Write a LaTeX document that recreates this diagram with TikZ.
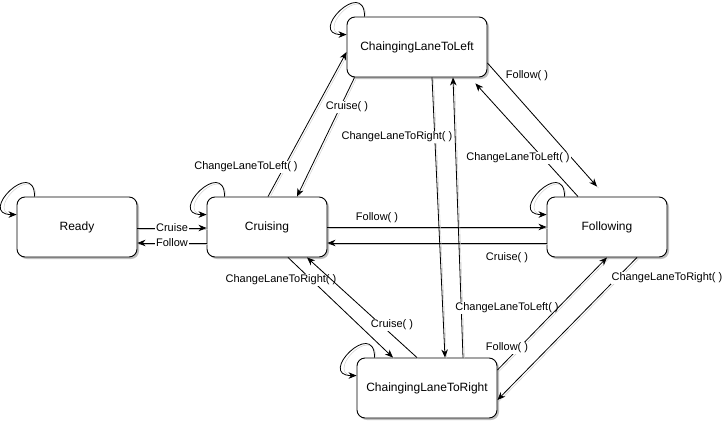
\documentclass[tikz,border=0pt]{standalone}
\usepackage{fontspec}
\setmainfont{Liberation Sans}
\usetikzlibrary{arrows.meta,calc,shadows}

\begin{document}
\begin{tikzpicture}[x=1pt, y=-1pt,
		statebox/.style={draw, line width=0.9pt, rounded corners=8pt, fill=white,
			minimum width=120pt, minimum height=60pt, font=\fontsize{12}{14}\selectfont,
			drop shadow={shadow xshift=2pt, shadow yshift=-2pt, opacity=.25, fill=black}},
		widebox/.style={minimum width=140pt},
		trans/.style={-{Stealth[length=8pt,width=6.5pt,inset=2.5pt]}, line width=0.8pt,
			preaction={draw=black!22, arrows=-, transform canvas={shift={(1.5pt,-1.5pt)}}}},
		lbl/.style={fill=white, inner sep=1pt, font=\fontsize{11}{13}\selectfont}
	]
		\useasboundingbox (0,0) rectangle (724,421);
		\node[statebox] (ready) at (77,227) {Ready};
		\node[statebox] (cruising) at (267,227) {Cruising};
		\node[statebox] (following) at (607,227) {Following};
		\node[statebox, widebox] (left) at (417,47) {ChaingingLaneToLeft};
		\node[statebox, widebox] (right) at (427,388) {ChaingingLaneToRight};
		% self loops
		\draw[trans] ($(ready.north west)+(18,0)$) .. controls +(0,-40) and +(-40,0) .. ($(ready.north west)+(0,18)$);
		\draw[trans] ($(cruising.north west)+(18,0)$) .. controls +(0,-40) and +(-40,0) .. ($(cruising.north west)+(0,18)$);
		\draw[trans] ($(following.north west)+(18,0)$) .. controls +(0,-40) and +(-40,0) .. ($(following.north west)+(0,18)$);
		\draw[trans] ($(left.north west)+(18,0)$) .. controls +(0,-40) and +(-40,0) .. ($(left.north west)+(0,18)$);
		\draw[trans] ($(right.north west)+(18,0)$) .. controls +(0,-40) and +(-40,0) .. ($(right.north west)+(0,18)$);
		% transitions
		\draw[trans] ($(ready.east)+(0,1)$) -- ($(cruising.west)+(0,1)$) node[lbl, midway] (lrc) {Cruise};
		\draw[trans] ($(cruising.west)+(0,16)$) -- ($(ready.east)+(0,16)$) node[lbl, midway] (lcr) {Follow};
		\draw[trans] (cruising.east) -- (following.west) node[lbl] (lcf) at (377,218) {Follow( )};
		\draw[trans] ($(following.west)+(0,16)$) -- ($(cruising.east)+(0,16)$) node[lbl] (lfc) at (507,258) {Cruise( )};
		\draw[trans] ($(cruising.north)+(1,0)$) -- ($(left.west)+(0,5)$) node[lbl] (lcl) at (246,167) {ChangeLaneToLeft( )};
		\draw[trans] ($(left.south west)+(8,0)$) -- ($(cruising.north)+(30,0)$) node[lbl] (llc) at (347,107) {Cruise( )};
		\draw[trans] ($(left.south)+(15,0)$) -- ($(right.north)+(18,0)$) node[lbl] (llr) at (397,137) {ChangeLaneToRight( )};
		\draw[trans] ($(right.north)+(36,0)$) -- ($(left.south)+(36,0)$) node[lbl] (lrl) at (507,308) {ChangeLaneToLeft( )};
		\draw[trans] ($(left.east)+(0,16)$) -- ($(following.north)+(-10,-10)$) node[lbl] (llf) at (527,76) {Follow( )};
		\draw[trans] ($(following.north)+(-29,0)$) -- ($(left.south east)+(-12,6)$) node[lbl] (lfl) at (518,158) {ChangeLaneToLeft( )};
		\draw[trans] ($(cruising.south)+(21,0)$) -- ($(right.north)+(-34,0)$) node[lbl] (lcrt) at (281,280) {ChangeLaneToRight( )};
		\draw[trans] ($(right.north)+(-10,0)$) -- ($(cruising.south)+(40,0)$) node[lbl] (lrtc) at (392,325) {Cruise( )};
		\draw[trans] ($(right.east)+(0,-18)$) -- (following.south) node[lbl] (lrtf) at (507,348) {Follow( )};
		\draw[trans] ($(following.south)+(30,0)$) -- ($(right.east)+(0,12)$) node[lbl] (lfrt) at (667,278) {ChangeLaneToRight( )};
	\end{tikzpicture}
\end{document}
